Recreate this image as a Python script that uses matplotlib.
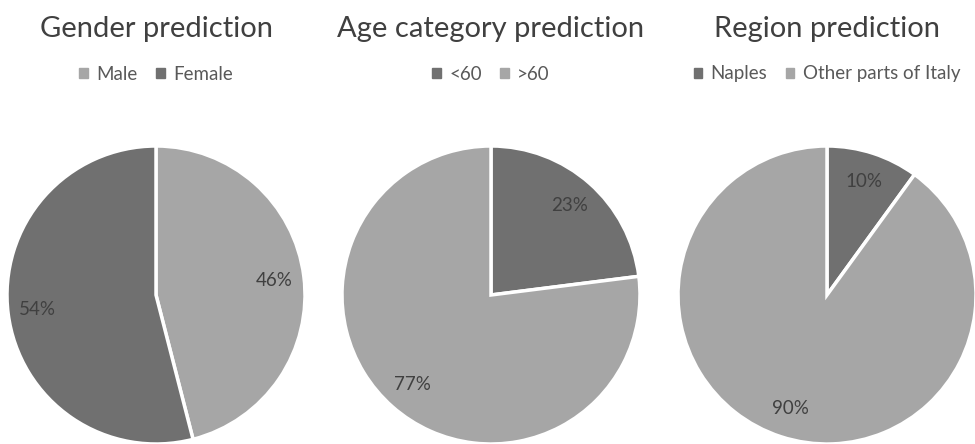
import numpy as np
import matplotlib.pyplot as plt
from matplotlib.patches import Patch

plt.rcParams['font.family'] = ['Lato', 'DejaVu Sans']

dark = '#707070'
light = '#a6a6a6'

titles = ['Gender prediction', 'Age category prediction', 'Region prediction']
labels = [['Male', 'Female'], ['<60', '>60'], ['Naples', 'Other parts of Italy']]
values = [[46, 54], [23, 77], [10, 90]]
colors = [[light, dark], [dark, light], [dark, light]]

W, H = 975, 444
fig = plt.figure(figsize=(W / 100, H / 100), dpi=100)

centers = [156, 491, 827]
cy = 295
r = 149

for i in range(3):
    ax = fig.add_axes([(centers[i] - r) / W, (H - cy - r) / H, 2 * r / W, 2 * r / H])
    wedges, texts, autotexts = ax.pie(values[i], colors=colors[i], startangle=90, counterclock=False,
                                      autopct='%d%%', pctdistance=0.8, radius=1,
                                      wedgeprops=dict(edgecolor='white', linewidth=2.5),
                                      textprops=dict(color='#404040', fontsize=13.5))
    ax.set_xlim(-1.0, 1.0)
    ax.set_ylim(-1.0, 1.0)
    ax.set_aspect('equal')
    fig.text(centers[i] / W, 1 - 29 / H, titles[i], ha='center', va='center',
             fontsize=21, color='#404040')
    handles = [Patch(color=c) for c in colors[i]]
    fig.legend(handles, labels[i], loc='center', bbox_to_anchor=(centers[i] / W, 1 - 74 / H),
               ncol=2, frameon=False, handlelength=0.45, handleheight=0.45, handletextpad=0.45,
               columnspacing=1.0, prop=dict(size=13.5), labelcolor='#595959')

fig.savefig('out.png', dpi=100)
